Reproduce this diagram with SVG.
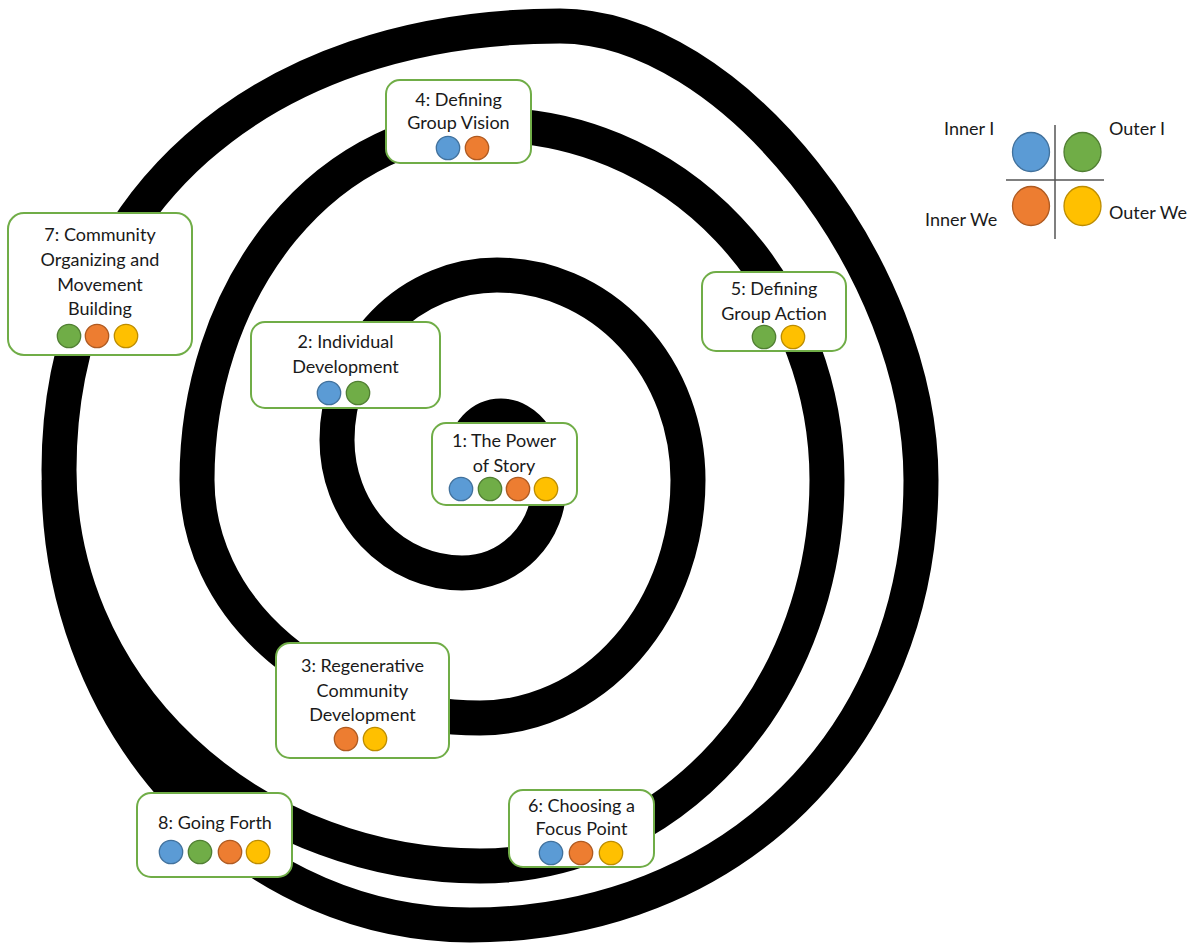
<svg xmlns="http://www.w3.org/2000/svg" width="1194" height="944" viewBox="0 0 1194 944">
<defs>
<clipPath id="leftClip"><rect x="0" y="0" width="292" height="944"/></clipPath>
</defs>
<style>
.box{fill:#fff;stroke:#70AD47;stroke-width:2}
.t{font-family:Lato,"Open Sans","Liberation Sans",sans-serif;font-size:18px;fill:#1a1a1a;text-anchor:middle}
.lg{font-family:Lato,"Open Sans","Liberation Sans",sans-serif;font-size:18px;fill:#1a1a1a}
.b{fill:#5B9BD5;stroke:#41719C;stroke-width:1.3}
.g{fill:#70AD47;stroke:#507E32;stroke-width:1.3}
.o{fill:#ED7D31;stroke:#AE5A21;stroke-width:1.3}
.y{fill:#FFC000;stroke:#BC8C00;stroke-width:1.3}
.sp{fill:none;stroke:#000;stroke-width:35}
.ax{stroke:#555;stroke-width:1.5}
</style>
<rect width="1194" height="944" fill="#fff"/>
<g id="connectors">
<path class="sp" d="M 465 455 A 36 39 0 0 1 501 416 A 48 69 0 0 1 549 485 A 87 88 0 0 1 462 573 A 125 133 0 0 1 337 440 A 160 165 0 0 1 497 275 A 191 205 0 0 1 688 480 A 208 238 0 0 1 480 718 A 283 238 0 0 1 197 480 A 293 355 0 0 1 490 125 A 337 355 0 0 1 827 480 A 347 386 0 0 1 480 866 A 421 396 0 0 1 59 470 C 59 204 259 26 560 26 C 730 26 921 267 921 480 C 921 738 732 925 470 925 A 411 445 0 0 1 59 480"/>
<path fill="#000" clip-path="url(#leftClip)" d="M 480 866 A 421 396 0 0 1 59 470 L 59 480 A 411 445 0 0 0 470 925 Z"/>
</g>
<g id="node1">
<rect class="box" x="432" y="423" width="145" height="82" rx="14"/>
<text class="t" x="504" y="447">1: The Power</text>
<text class="t" x="504" y="472">of Story</text>
<circle class="b" cx="461" cy="489" r="11.7"/><circle class="g" cx="490" cy="489" r="11.7"/><circle class="o" cx="518" cy="489" r="11.7"/><circle class="y" cx="546" cy="489" r="11.7"/>
</g>
<g id="node2">
<rect class="box" x="251" y="322" width="189" height="86" rx="14"/>
<text class="t" x="345.5" y="348">2: Individual</text>
<text class="t" x="345.5" y="373">Development</text>
<circle class="b" cx="329" cy="393" r="11.7"/><circle class="g" cx="358" cy="393" r="11.7"/>
</g>
<g id="node3">
<rect class="box" x="276" y="643" width="173" height="115" rx="14"/>
<text class="t" x="362.5" y="672">3: Regenerative</text>
<text class="t" x="362.5" y="697">Community</text>
<text class="t" x="362.5" y="721">Development</text>
<circle class="o" cx="346" cy="739" r="11.7"/><circle class="y" cx="375" cy="739" r="11.7"/>
</g>
<g id="node4">
<rect class="box" x="386" y="80" width="145" height="83" rx="14"/>
<text class="t" x="458.5" y="106">4: Defining</text>
<text class="t" x="458.5" y="129">Group Vision</text>
<circle class="b" cx="448" cy="148" r="11.7"/><circle class="o" cx="477" cy="148" r="11.7"/>
</g>
<g id="node5">
<rect class="box" x="702" y="272" width="144" height="79" rx="14"/>
<text class="t" x="774" y="295">5: Defining</text>
<text class="t" x="774" y="320">Group Action</text>
<circle class="g" cx="764" cy="337" r="11.7"/><circle class="y" cx="793" cy="337" r="11.7"/>
</g>
<g id="node6">
<rect class="box" x="509" y="790" width="145" height="77" rx="14"/>
<text class="t" x="581.5" y="812">6: Choosing a</text>
<text class="t" x="581.5" y="835">Focus Point</text>
<circle class="b" cx="551" cy="853" r="11.7"/><circle class="o" cx="581" cy="853" r="11.7"/><circle class="y" cx="611" cy="853" r="11.7"/>
</g>
<g id="node7">
<rect class="box" x="8" y="213" width="184" height="142" rx="16"/>
<text class="t" x="100" y="241">7: Community</text>
<text class="t" x="100" y="266">Organizing and</text>
<text class="t" x="100" y="291">Movement</text>
<text class="t" x="100" y="315">Building</text>
<circle class="g" cx="69" cy="336" r="11.7"/><circle class="o" cx="97" cy="336" r="11.7"/><circle class="y" cx="126" cy="336" r="11.7"/>
</g>
<g id="node8">
<rect class="box" x="137" y="793" width="155" height="84" rx="14"/>
<text class="t" x="215" y="829">8: Going Forth</text>
<circle class="b" cx="171" cy="852" r="11.7"/><circle class="g" cx="200" cy="852" r="11.7"/><circle class="o" cx="230" cy="852" r="11.7"/><circle class="y" cx="258" cy="852" r="11.7"/>
</g>
<g id="legend">
<line class="ax" x1="1055" y1="125" x2="1055" y2="239"/>
<line class="ax" x1="1006" y1="180" x2="1104" y2="180"/>
<ellipse class="b" cx="1031" cy="152" rx="18.5" ry="19.5"/>
<ellipse class="g" cx="1082.5" cy="152" rx="18.5" ry="19.5"/>
<ellipse class="o" cx="1031" cy="206" rx="18.5" ry="19.5"/>
<ellipse class="y" cx="1082.5" cy="206" rx="18.5" ry="19.5"/>
<text class="lg" x="944" y="135">Inner I</text>
<text class="lg" x="1109" y="135">Outer I</text>
<text class="lg" x="925" y="226">Inner We</text>
<text class="lg" x="1109" y="219">Outer We</text>
</g>
</svg>
